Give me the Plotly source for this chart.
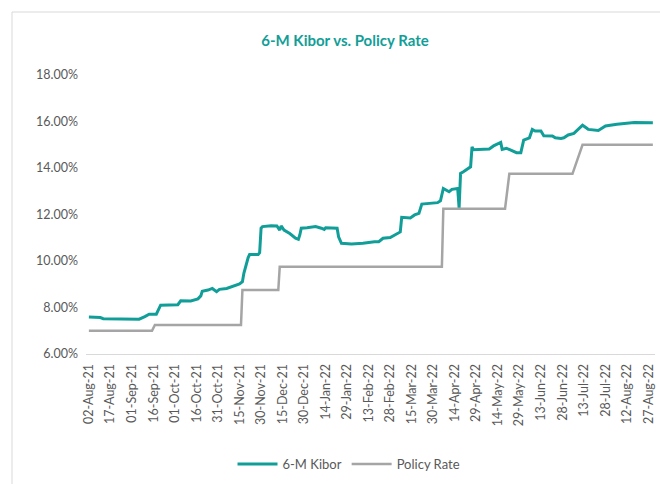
import plotly.graph_objects as go

# ---- data ----
kibor_dates = [
    "2021-08-02", "2021-08-10", "2021-08-12", "2021-09-06", "2021-09-10", "2021-09-13",
    "2021-09-18", "2021-09-19", "2021-09-21", "2021-10-03", "2021-10-05", "2021-10-12",
    "2021-10-17", "2021-10-19", "2021-10-20", "2021-10-24", "2021-10-27", "2021-10-30",
    "2021-11-01", "2021-11-06", "2021-11-10", "2021-11-15", "2021-11-17", "2021-11-18",
    "2021-11-21", "2021-11-22", "2021-11-28", "2021-11-29", "2021-11-30", "2021-12-01",
    "2021-12-07", "2021-12-11", "2021-12-13", "2021-12-14", "2021-12-16", "2021-12-20",
    "2021-12-24", "2021-12-26", "2021-12-27", "2021-12-28", "2022-01-01", "2022-01-07",
    "2022-01-11", "2022-01-13", "2022-01-14", "2022-01-22", "2022-01-23", "2022-01-25",
    "2022-02-01", "2022-02-09", "2022-02-17", "2022-02-20", "2022-02-23", "2022-02-28",
    "2022-03-07", "2022-03-08", "2022-03-14", "2022-03-17", "2022-03-20", "2022-03-22",
    "2022-04-02", "2022-04-04", "2022-04-06", "2022-04-10", "2022-04-12", "2022-04-16",
    "2022-04-17", "2022-04-18", "2022-04-20", "2022-04-25", "2022-04-26", "2022-04-27",
    "2022-05-08", "2022-05-11", "2022-05-16", "2022-05-17", "2022-05-20", "2022-05-24",
    "2022-05-27", "2022-05-30", "2022-06-01", "2022-06-05", "2022-06-07", "2022-06-09",
    "2022-06-13", "2022-06-15", "2022-06-21", "2022-06-23", "2022-06-27", "2022-06-29",
    "2022-07-02", "2022-07-06", "2022-07-09", "2022-07-12", "2022-07-15", "2022-07-16",
    "2022-07-23", "2022-07-26", "2022-07-28", "2022-08-05", "2022-08-17", "2022-08-30",
]
kibor_values = [
    7.59, 7.57, 7.52, 7.50, 7.61, 7.71,
    7.71, 7.82, 8.10, 8.12, 8.29, 8.28,
    8.37, 8.50, 8.70, 8.75, 8.82, 8.68,
    8.78, 8.82, 8.89, 9.01, 9.11, 9.47,
    10.15, 10.28, 10.28, 10.36, 11.41, 11.48,
    11.52, 11.51, 11.33, 11.51, 11.33, 11.18,
    10.98, 10.93, 11.12, 11.41, 11.43, 11.48,
    11.41, 11.36, 11.43, 11.41, 11.04, 10.76,
    10.73, 10.76, 10.83, 10.83, 10.98, 11.01,
    11.25, 11.88, 11.85, 11.98, 12.05, 12.45,
    12.51, 12.59, 13.12, 12.98, 13.08, 13.12,
    12.27, 13.77, 13.84, 14.05, 14.91, 14.79,
    14.82, 14.95, 15.10, 14.80, 14.85, 14.73,
    14.66, 14.66, 15.20, 15.30, 15.66, 15.59,
    15.59, 15.39, 15.38, 15.30, 15.27, 15.30,
    15.42, 15.49, 15.66, 15.84, 15.71, 15.66,
    15.61, 15.73, 15.81, 15.88, 15.96, 15.95,
]

policy_dates = [
    "2021-08-02", "2021-09-15", "2021-09-17", "2021-11-16", "2021-11-17", "2021-12-12",
    "2021-12-13", "2022-04-05", "2022-04-06", "2022-05-19", "2022-05-22", "2022-07-05",
    "2022-07-12", "2022-08-30",
]
policy_values = [
    7.00, 7.00, 7.25, 7.25, 8.75, 8.75,
    9.75, 9.75, 12.25, 12.25, 13.75, 13.75,
    15.00, 15.00,
]

y_ticks = [6, 8, 10, 12, 14, 16, 18]
y_tick_labels = ["6.00%", "8.00%", "10.00%", "12.00%", "14.00%", "16.00%", "18.00%"]

TEAL = "#129E98"
GRAY = "#A5A5A5"
TXT = "#595959"
FONT = "Lato, Open Sans, sans-serif"

fig = go.Figure()
fig.add_trace(go.Scatter(x=kibor_dates, y=kibor_values, mode="lines", name="6-M Kibor",
                         line=dict(color=TEAL, width=3)))
fig.add_trace(go.Scatter(x=policy_dates, y=policy_values, mode="lines", name="Policy Rate",
                         line=dict(color=GRAY, width=2.5)))

L, R, T, B = 86, 5, 75, 130
W, H = 660, 484
pw, ph = W - L - R, H - T - B

def px_x(p):
    return (p - L) / pw

def px_y(p):
    return (H - B - p) / ph

fig.add_shape(type="rect", xref="paper", yref="paper",
              x0=px_x(12), x1=px_x(675), y0=px_y(500), y1=px_y(12),
              line=dict(color="#D9D9D9", width=1), fillcolor="rgba(0,0,0,0)", layer="below")

fig.update_layout(
    width=W, height=H,
    margin=dict(l=L, r=R, t=T, b=B, autoexpand=False),
    paper_bgcolor="white", plot_bgcolor="white",
    font=dict(family=FONT, color=TXT, size=12),
    title=dict(text="<b>6-M Kibor vs. Policy Rate</b>", x=345 / W, xanchor="center",
               y=1 - 41 / H, yanchor="middle",
               font=dict(family=FONT, size=15, color=TEAL)),
    showlegend=True,
    legend=dict(orientation="h", x=px_x(349), xanchor="center", y=px_y(464), yanchor="middle",
                font=dict(family=FONT, size=13, color=TXT), itemwidth=40,
                tracegroupgap=0, bgcolor="rgba(0,0,0,0)"),
)
fig.update_xaxes(
    type="date", automargin=False,
    range=["2021-07-31 00:00", "2022-08-31 12:00"],
    tick0="2021-08-02", dtick=15 * 86400000, tickformat="%d-%b-%y",
    tickangle=-90, showgrid=False, zeroline=False,
    showline=True, linecolor="#D9D9D9", linewidth=1,
    ticks="", ticklabelstandoff=4, tickfont=dict(family=FONT, size=12.5, color=TXT),
)
fig.update_yaxes(
    automargin=False,
    range=[6, 18], tickvals=y_ticks, ticktext=y_tick_labels,
    showgrid=False, zeroline=False, showline=False, ticks="",
    ticklabelstandoff=7, tickfont=dict(family=FONT, size=12.5, color=TXT),
)

fig.write_html("out.html", config={"displayModeBar": False},
               post_script="document.body.style.margin='0px';document.body.style.overflow='hidden';")
